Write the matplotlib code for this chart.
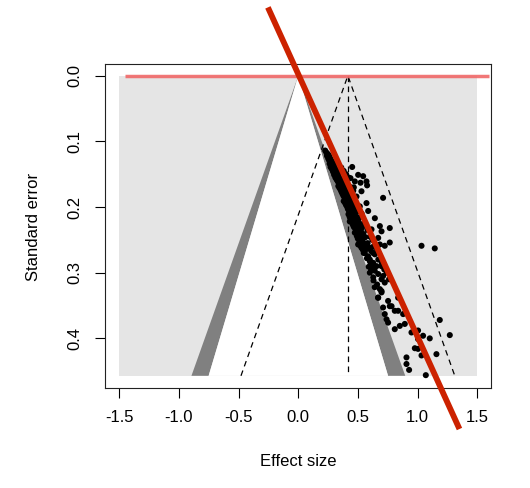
import matplotlib
matplotlib.use("Agg")
import matplotlib.pyplot as plt
from matplotlib.patches import Polygon, Rectangle

plt.rcParams['font.family'] = ['Liberation Sans', 'DejaVu Sans']

# ---- data (effect size, standard error) ----
effect = [
    0.225, 0.235, 0.245, 0.240, 0.255, 0.262, 0.250, 0.270, 0.258, 0.280, 0.266, 0.290,
    0.262, 0.275, 0.300, 0.285, 0.270, 0.295, 0.310, 0.280, 0.300, 0.320, 0.290, 0.312, 0.330, 0.300, 0.345,
    0.300, 0.318, 0.335, 0.310, 0.328, 0.350, 0.320, 0.340, 0.362, 0.330, 0.352, 0.375, 0.342, 0.365, 0.388, 0.335, 0.358,
    0.345, 0.368, 0.390, 0.355, 0.378, 0.400, 0.362, 0.385, 0.410, 0.370, 0.395, 0.420, 0.378, 0.402, 0.430, 0.388, 0.412, 0.440, 0.395,
    0.380, 0.405, 0.430, 0.455, 0.392, 0.418, 0.445, 0.400, 0.428, 0.455, 0.410, 0.438, 0.465, 0.415, 0.445, 0.475, 0.425, 0.452, 0.485, 0.432,
    0.420, 0.448, 0.475, 0.430, 0.460, 0.490, 0.438, 0.468, 0.500, 0.445, 0.475, 0.508, 0.455, 0.485, 0.520, 0.462,
    0.451, 0.501, 0.543, 0.571, 0.473, 0.521, 0.576, 0.529, 0.487, 0.710, 0.571, 0.515, 0.585, 0.641, 0.437, 0.465,
    0.431, 0.459, 0.501, 0.473, 0.515, 0.543, 0.515, 0.543, 0.501, 0.529, 0.571, 0.599, 0.627, 0.557, 0.585, 0.599,
    0.641, 0.627, 0.683, 0.724, 0.766, 0.669, 0.697, 0.766, 0.683, 0.613, 0.655, 0.697, 0.669, 0.710, 0.697, 0.599,
    0.627, 0.724, 0.683, 0.697, 0.669, 0.752, 0.781, 0.836, 1.032, 1.143,
    0.468, 0.495, 0.530, 0.482, 0.505, 0.545, 0.490, 0.525, 0.560, 0.498, 0.535, 0.512, 0.550, 0.580, 0.520, 0.560,
    0.540, 0.610, 0.548, 0.575, 0.600, 0.615, 0.590, 0.610, 0.640,
    0.697, 0.668, 0.710, 0.766, 0.724, 0.739, 0.752, 0.808, 0.836, 0.878, 0.850, 0.808, 0.892, 0.948, 1.003, 1.045,
    1.101, 1.003, 1.185, 1.269, 0.976, 1.003, 1.032, 1.157, 0.906, 0.906, 0.928, 1.068,
    0.360, 0.380, 0.400, 0.420, 0.410, 0.440, 0.460, 0.450, 0.480, 0.500, 0.530, 0.520, 0.550, 0.580, 0.600, 0.620,
    0.630, 0.660, 0.670, 0.700, 0.720, 0.740, 0.760, 0.630, 0.660, 0.640,
]
se = [
    0.114, 0.117, 0.119, 0.122, 0.121, 0.124, 0.126, 0.127, 0.129, 0.130, 0.131, 0.133,
    0.134, 0.135, 0.136, 0.138, 0.139, 0.140, 0.141, 0.142, 0.144, 0.144, 0.146, 0.147, 0.148, 0.149, 0.147,
    0.151, 0.152, 0.153, 0.155, 0.156, 0.156, 0.158, 0.159, 0.160, 0.161, 0.162, 0.163, 0.165, 0.166, 0.167, 0.168, 0.169,
    0.171, 0.172, 0.172, 0.174, 0.175, 0.176, 0.177, 0.178, 0.179, 0.180, 0.181, 0.182, 0.183, 0.184, 0.185, 0.186, 0.187, 0.188, 0.189,
    0.191, 0.191, 0.192, 0.193, 0.194, 0.195, 0.196, 0.197, 0.198, 0.199, 0.200, 0.201, 0.202, 0.203, 0.204, 0.205, 0.206, 0.207, 0.208, 0.209,
    0.211, 0.212, 0.213, 0.215, 0.216, 0.217, 0.218, 0.219, 0.220, 0.222, 0.223, 0.224, 0.226, 0.227, 0.228, 0.229,
    0.139, 0.151, 0.153, 0.161, 0.161, 0.163, 0.167, 0.176, 0.184, 0.186, 0.194, 0.199, 0.206, 0.217, 0.156, 0.170,
    0.222, 0.224, 0.222, 0.239, 0.237, 0.229, 0.249, 0.254, 0.257, 0.262, 0.264, 0.262, 0.270, 0.270, 0.275, 0.280,
    0.272, 0.285, 0.257, 0.259, 0.254, 0.247, 0.237, 0.232, 0.229, 0.234, 0.290, 0.290, 0.302, 0.305, 0.310, 0.300,
    0.307, 0.315, 0.325, 0.328, 0.338, 0.343, 0.351, 0.338, 0.259, 0.263,
    0.231, 0.232, 0.233, 0.236, 0.240, 0.241, 0.244, 0.245, 0.246, 0.248, 0.250, 0.253, 0.256, 0.255, 0.259, 0.259,
    0.265, 0.267, 0.270, 0.278, 0.283, 0.290, 0.291, 0.296, 0.297,
    0.330, 0.338, 0.353, 0.351, 0.363, 0.371, 0.376, 0.358, 0.358, 0.363, 0.381, 0.386, 0.378, 0.391, 0.388, 0.396,
    0.400, 0.401, 0.372, 0.395, 0.415, 0.416, 0.426, 0.424, 0.429, 0.439, 0.448, 0.456,
    0.140, 0.145, 0.150, 0.155, 0.165, 0.170, 0.175, 0.190, 0.195, 0.205, 0.210, 0.215, 0.225, 0.235, 0.245, 0.250,
    0.260, 0.265, 0.280, 0.285, 0.295, 0.300, 0.310, 0.312, 0.318, 0.322,
]

se_max = 0.457
x_region = [-1.5, 1.5]
z_levels = [1.645, 1.96]        # contour levels (p = .10, .05)
estimate = 0.415                # pooled estimate (dashed funnel centre)
pet_intercept = 0.005           # regression line: effect = a + b * se
pet_slope = 2.5
pet_se_range = [-0.104, 0.538]
strip_x = [-1.45, 1.60]         # row of red points at se = 0
x_ticks = [-1.5, -1.0, -0.5, 0.0, 0.5, 1.0, 1.5]
x_tick_labels = ["-1.5", "-1.0", "-0.5", "0.0", "0.5", "1.0", "1.5"]
y_ticks = [0.0, 0.1, 0.2, 0.3, 0.4]
y_tick_labels = ["0.0", "0.1", "0.2", "0.3", "0.4"]

W, H = 530, 488
fig = plt.figure(figsize=(W / 100, H / 100), dpi=100)
ax = fig.add_axes([105 / W, 1 - 387.5 / H, (490.5 - 105) / W, (387.5 - 64) / H])

# light grey background region
ax.add_patch(Rectangle((x_region[0], 0), x_region[1] - x_region[0], se_max,
                       facecolor='#e5e5e5', edgecolor='none', zorder=1))
# dark bands between the two contour levels
z1, z2 = z_levels
for s in (-1, 1):
    ax.add_patch(Polygon([(0, 0), (s * z2 * se_max, se_max), (s * z1 * se_max, se_max)],
                         closed=True, facecolor='#808080', edgecolor='none', zorder=2))
# white inner region
ax.add_patch(Polygon([(0, 0), (-z1 * se_max, se_max), (z1 * se_max, se_max)],
                     closed=True, facecolor='white', edgecolor='none', zorder=2))

# dashed funnel around the estimate
dash = (0, (4.5, 3.5))
ax.plot([estimate, estimate], [0, se_max], color='black', lw=0.9, ls=dash, zorder=3)
ax.plot([estimate - z2 * se_max, estimate, estimate + z2 * se_max], [se_max, 0, se_max],
        color='black', lw=0.9, ls=dash, zorder=3)

# studies
ax.scatter(effect, se, s=19, color='black', edgecolors='none', zorder=4)

# red strip at se = 0
ax.plot(strip_x, [0, 0], color='#f06868', lw=2.5, alpha=0.9, solid_capstyle='butt',
        clip_on=False, zorder=5)

# regression line
ax.plot([pet_intercept + pet_slope * pet_se_range[0], pet_intercept + pet_slope * pet_se_range[1]],
        pet_se_range, color='#cc2200', lw=4.2, solid_capstyle='butt', clip_on=False, zorder=6)

ax.set_xlim(-1.62, 1.61)
ax.set_ylim(0.4748, -0.0178)
ax.set_xticks(x_ticks)
ax.set_xticklabels(x_tick_labels)
ax.set_yticks(y_ticks)
ax.set_yticklabels(y_tick_labels, rotation=90, va='center')
ax.tick_params(axis='x', length=7.5, width=0.8, pad=9, labelsize=12, direction='out')
ax.tick_params(axis='y', length=7.5, width=0.8, pad=9, labelsize=12, direction='out')
for sp in ax.spines.values():
    sp.set_linewidth(0.8)
    sp.set_color('#222222')

fig.text(33 / W, 1 - 227 / H, "Standard error", rotation=90, ha='center', va='center', fontsize=12)
fig.text(298 / W, 1 - 461 / H, "Effect size", ha='center', va='center', fontsize=12)

fig.savefig("out.png", dpi=100)
